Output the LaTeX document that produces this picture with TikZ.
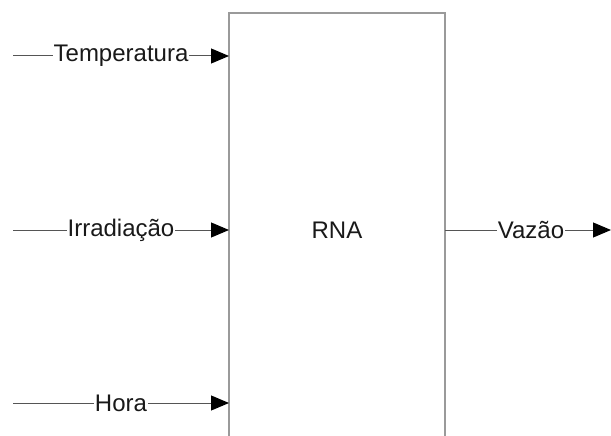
\documentclass[tikz,border=0pt]{standalone}
\usepackage{fontspec}
\setmainfont{Liberation Sans}
\usetikzlibrary{arrows.meta}
\definecolor{boxgray}{HTML}{9A9A9A}
\definecolor{linegray}{HTML}{555555}
\tikzset{
  conn/.style={draw=linegray, line width=1pt, -{Triangle[length=18pt,width=15pt,color=black]}},
  lbl/.style={fill=white, inner sep=1pt, text=black!90, font=\fontsize{24}{28}\selectfont},
  boxline/.style={draw=boxgray, line width=1.2pt}
}
\begin{document}
\begin{tikzpicture}[x=1pt,y=-1pt]
\useasboundingbox (0,0) rectangle (611,436);
% box (open at bottom)
\coordinate (bl) at (229,437);
\coordinate (tl) at (229,13);
\coordinate (tr) at (445,13);
\coordinate (br) at (445,437);
\draw[boxline] (bl) -- (tl) -- (tr) -- (br);
\node[lbl, fill=none] (rna) at (337,230) {RNA};
% inputs
\coordinate (s1) at (13,56);
\coordinate (e1) at (229,56);
\coordinate (s2) at (13,230);
\coordinate (e2) at (229,230);
\coordinate (s3) at (13,403);
\coordinate (e3) at (229,403);
\coordinate (s4) at (445,230);
\coordinate (e4) at (611,230);
\draw[conn] (s1) -- (e1) node[lbl, midway] (t1) {Temperatura};
\draw[conn] (s2) -- (e2) node[lbl, midway] (t2) {Irradiação};
\draw[conn] (s3) -- (e3) node[lbl, midway] (t3) {Hora};
\draw[conn] (s4) -- (e4) node[lbl, midway, xshift=3pt] (t4) {Vazão};
\end{tikzpicture}
\end{document}
